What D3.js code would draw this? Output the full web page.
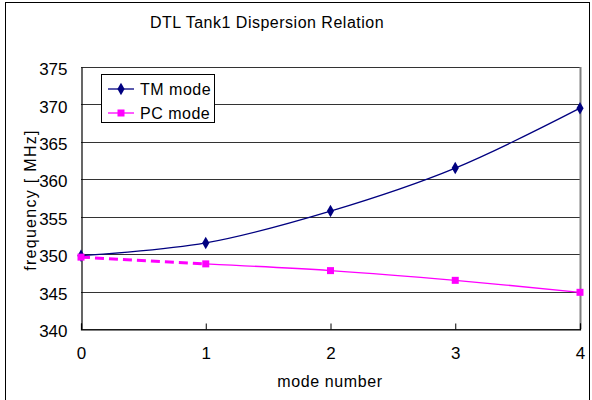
<!DOCTYPE html>
<html><head><meta charset="utf-8">
<script src="https://cdn.jsdelivr.net/npm/d3@7"></script>
<style>body{margin:0;background:#fff}svg{display:block}text{font-family:"Liberation Sans",Arial,sans-serif;fill:#000}
.num{font-family:"Liberation Sans Narrow","Liberation Sans",Arial,sans-serif;font-size:17px}</style>
</head><body><svg id="c" width="592" height="400"></svg>
<script>
const modes = [0, 1, 2, 3, 4];
const tmValues = [349.8, 351.5, 355.75, 361.5, 369.5];
const pcValues = [349.6, 348.7, 347.8, 346.5, 344.9];
const yTicks = [340, 345, 350, 355, 360, 365, 370, 375];
const xTicks = [0, 1, 2, 3, 4];
const seriesNames = ["TM mode", "PC mode"];
const title = "DTL Tank1 Dispersion Relation";
const xTitle = "mode number";
const yTitle = "frequency [ MHz]";

const svg = d3.select("#c");
const m = {l: 81, r: 580, t: 67, b: 329};
const x = d3.scaleLinear().domain([0, 4]).range([m.l, m.r]);
const y = d3.scaleLinear().domain([340, 375]).range([m.b, m.t]);

// outer border
svg.append("rect").attr("x", 5.5).attr("y", 2.5).attr("width", 584).attr("height", 400)
  .attr("fill", "none").attr("stroke", "#000").attr("stroke-width", 1);

// gridlines
svg.append("g").selectAll("line").data(yTicks).join("line")
  .attr("x1", m.l).attr("x2", m.r).attr("y1", d => Math.round(y(d)) + 0.5).attr("y2", d => Math.round(y(d)) + 0.5)
  .attr("stroke", "#333").attr("stroke-width", 1.2);
// right plot border
svg.append("line").attr("x1", m.r + 0.5).attr("x2", m.r + 0.5).attr("y1", m.t).attr("y2", m.b)
  .attr("stroke", "#808080").attr("stroke-width", 2);
// axes
const yAxis = d3.axisLeft(y).tickValues(yTicks).tickSize(0).tickPadding(14);
const gy = svg.append("g").attr("transform", `translate(${m.l + 0.5},0)`).call(yAxis);
gy.select(".domain").attr("stroke", "#000").attr("stroke-width", 1.2);
gy.selectAll("text").attr("class", "num").attr("dy", "0.45em").attr("font-family", null).attr("font-size", null);
const xAxis = d3.axisBottom(x).tickValues(xTicks).tickSize(-6).tickPadding(17).tickFormat(d3.format("d"));
const gx = svg.append("g").attr("transform", `translate(0,${m.b + 0.5})`).call(xAxis);
gx.select(".domain").attr("stroke", "#000").attr("stroke-width", 1.2);
gx.selectAll(".tick line").attr("stroke", "#000");
gx.selectAll("text").attr("class", "num").attr("font-family", null).attr("font-size", null);
svg.selectAll("g").attr("font-family", null).attr("font-size", null);

// titles
svg.append("text").attr("x", 267).attr("y", 28).attr("text-anchor", "middle")
  .style("font-size", "16px").style("letter-spacing", "0.5px").text(title);
svg.append("text").attr("x", 330).attr("y", 387).attr("text-anchor", "middle")
  .style("font-size", "16px").style("letter-spacing", "0.6px").text(xTitle);
svg.append("text").attr("transform", "translate(36,200) rotate(-90)").attr("text-anchor", "middle")
  .style("font-size", "16px").style("letter-spacing", "1.3px").text(yTitle);

const curve = d3.curveCardinal.tension(0);
const tm = modes.map((d, i) => [d, tmValues[i]]);
const pc = modes.map((d, i) => [d, pcValues[i]]);
const line = d3.line().x(d => x(d[0])).y(d => y(d[1])).curve(curve);

svg.append("path").attr("d", line(tm)).attr("fill", "none").attr("stroke", "#000080").attr("stroke-width", 1.3);
svg.append("path").attr("d", line(pc.slice(1))).attr("fill", "none").attr("stroke", "#ff00ff").attr("stroke-width", 1.3);
svg.append("path").attr("d", d3.line().x(d => x(d[0])).y(d => y(d[1]))(pc.slice(0, 2)))
  .attr("fill", "none").attr("stroke", "#ff00ff").attr("stroke-width", 3).attr("stroke-dasharray", "9,5");

const diamond = d3.symbol().type(d3.symbolDiamond).size(45);
svg.append("g").selectAll("path").data(tm).join("path")
  .attr("transform", d => `translate(${x(d[0])},${y(d[1])})`).attr("d", diamond).attr("fill", "#000080");
svg.append("g").selectAll("rect").data(pc).join("rect")
  .attr("x", d => x(d[0]) - 3.5).attr("y", d => y(d[1]) - 3.5).attr("width", 7).attr("height", 7).attr("fill", "#ff00ff");

// legend
const lg = svg.append("g");
lg.append("rect").attr("x", 101.5).attr("y", 74.5).attr("width", 113).attr("height", 48)
  .attr("fill", "#fff").attr("stroke", "#000").attr("stroke-width", 1);
const colors = ["#000080", "#ff00ff"];
seriesNames.forEach((n, i) => {
  const yy = 89 + i * 24;
  lg.append("line").attr("x1", 108).attr("x2", 134).attr("y1", yy).attr("y2", yy).attr("stroke", colors[i]).attr("stroke-width", 1.3);
  if (i === 0) lg.append("path").attr("transform", `translate(121,${yy})`).attr("d", diamond).attr("fill", colors[i]);
  else lg.append("rect").attr("x", 117.5).attr("y", yy - 3.5).attr("width", 7).attr("height", 7).attr("fill", colors[i]);
  lg.append("text").attr("x", 140).attr("y", yy).attr("dy", "0.36em")
    .style("font-size", "16px").style("letter-spacing", "0.5px").text(n);
});
</script></body></html>
